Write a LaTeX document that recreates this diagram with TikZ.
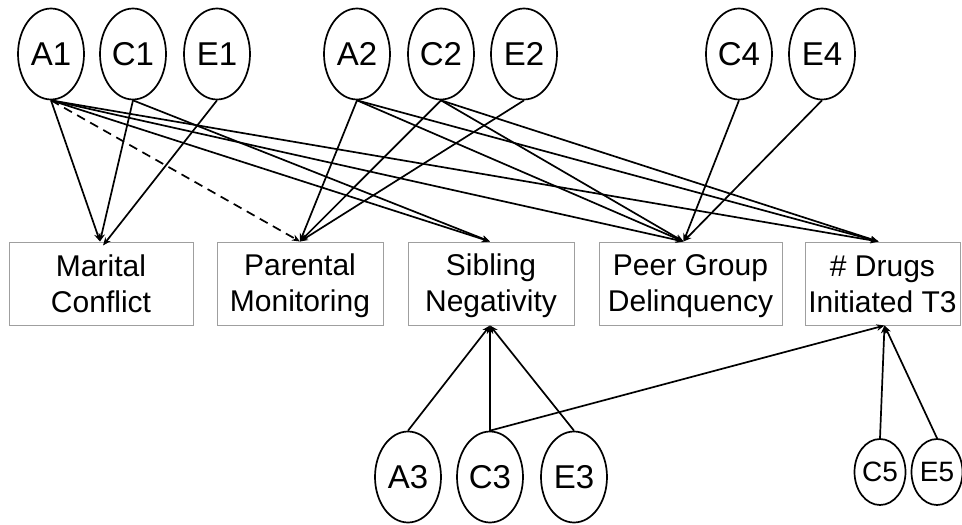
\documentclass[tikz,border=0pt]{standalone}
\usepackage{fontspec}
\setmainfont{Liberation Sans}
\usetikzlibrary{shapes.geometric,arrows.meta}
\newcommand\boxstrut{\rule[-5pt]{0pt}{31pt}}
\begin{document}
\begin{tikzpicture}[x=1pt,y=-1pt,
  lat/.style={draw=black,line width=1.7pt,ellipse,inner sep=0pt,minimum width=66pt,minimum height=91pt,font=\fontsize{33}{33}\selectfont},
  latsm/.style={draw=black,line width=1.7pt,ellipse,inner sep=0pt,minimum width=51pt,minimum height=66pt,font=\fontsize{28}{28}\selectfont},
  obs/.style={draw=gray!75,line width=1pt,rectangle,inner sep=0pt,minimum height=83pt,align=center,font=\fontsize{30}{36}\selectfont},
  path/.style={line width=1.7pt,-{Stealth[length=8pt,width=6.5pt]}},
  dpath/.style={path,dash pattern=on 9pt off 6pt}]
\useasboundingbox (0,0) rectangle (962,525);
% top latent
\node[lat] (A1) at (51,54) {A1};
\node[lat] (C1) at (133,54) {C1};
\node[lat] (E1) at (217,54) {E1};
\node[lat] (A2) at (357,54) {A2};
\node[lat] (C2) at (441,54) {C2};
\node[lat] (E2) at (524,54) {E2};
\node[lat] (C4) at (739,54) {C4};
\node[lat] (E4) at (822,54) {E4};
% boxes
\node[obs,minimum width=184pt] (mc) at (101,283.5) {Marital\boxstrut\\Conflict\boxstrut};
\node[obs,minimum width=166pt] (pm) at (300,283.5) {Parental\boxstrut\\Monitoring\boxstrut};
\node[obs,minimum width=166pt] (sn) at (491,283.5) {Sibling\boxstrut\\Negativity\boxstrut};
\node[obs,minimum width=183pt] (pg) at (690.5,283.5) {Peer Group\boxstrut\\Delinquency\boxstrut};
\node[obs,minimum width=155pt] (dr) at (882.5,283.5) {\# Drugs\boxstrut\\Initiated T3\boxstrut};
% bottom latent
\node[lat] (A3) at (408,477) {A3};
\node[lat] (C3) at (490,477) {C3};
\node[lat] (E3) at (574,477) {E3};
\node[latsm] (C5) at (880,472) {C5};
\node[latsm] (E5) at (937,472) {E5};
% target points
\coordinate (mcT) at ([xshift=-1pt]mc.north);
\coordinate (pmT) at (pm.north);
\coordinate (snT) at ([xshift=-1pt]sn.north);
\coordinate (pgT) at ([xshift=-7pt]pg.north);
\coordinate (drT) at ([xshift=-4pt]dr.north);
\coordinate (snB) at ([xshift=-1pt]sn.south);
\coordinate (drB) at ([xshift=2pt]dr.south);
% edges
\draw[path] (A1.south) -- (mcT);
\draw[dpath] (A1.south) -- (pmT);
\draw[path] (A1.south) -- (snT);
\draw[path] (A1.south) -- (pgT);
\draw[path] (A1.south) -- (drT);
\draw[path] (C1.south) -- (mcT);
\draw[path] (C1.south) -- (snT);
\draw[path] (E1.south) -- ([xshift=3pt,yshift=-4pt]mcT);
\draw[path] (A2.south) -- (pmT);
\draw[path] (A2.south) -- (pgT);
\draw[path] (A2.south) -- (drT);
\draw[path] (C2.south) -- (pmT);
\draw[path] (C2.south) -- (pgT);
\draw[path] (C2.south) -- (drT);
\draw[path] (E2.south) -- (pmT);
\draw[path] (C4.south) -- (pgT);
\draw[path] (E4.south) -- (pgT);
\draw[path] (A3.north) -- (snB);
\draw[path] (C3.north) -- (snB);
\draw[path] (E3.north) -- (snB);
\draw[path] (C3.north) -- (drB);
\draw[path] (C5.north) -- (drB);
\draw[path] (E5.north) -- (drB);
\end{tikzpicture}
\end{document}
